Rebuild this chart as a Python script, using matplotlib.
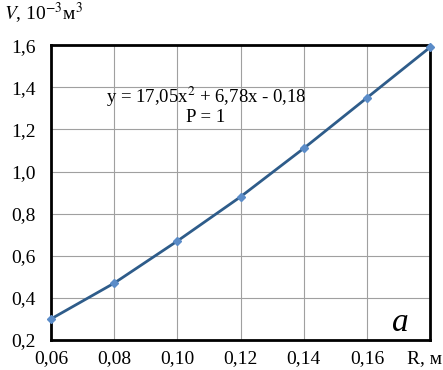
import matplotlib.pyplot as plt
from matplotlib.ticker import FuncFormatter

# values
R = [0.06, 0.08, 0.10, 0.12, 0.14, 0.16, 0.18]
V = [0.30, 0.47, 0.67, 0.88, 1.11, 1.35, 1.59]
xticks = [0.06, 0.08, 0.10, 0.12, 0.14, 0.16]
yticks = [0.2, 0.4, 0.6, 0.8, 1.0, 1.2, 1.4, 1.6]

plt.rcParams['font.family'] = ['Liberation Serif', 'DejaVu Serif']
plt.rcParams['mathtext.fontset'] = 'stix'

fig = plt.figure(figsize=(4.43, 3.7), dpi=100)
ax = fig.add_axes([0.115, 0.081, 0.856, 0.797])

ax.plot(R, V, color='#2E5C8A', linewidth=2, marker='D', markersize=4.5,
        markerfacecolor='#5B8CC8', markeredgecolor='#5B8CC8', zorder=3,
        clip_on=False)

ax.set_xlim(0.06, 0.18)
ax.set_ylim(0.2, 1.6)
ax.set_xticks(xticks)
ax.set_yticks(yticks)
ax.xaxis.set_major_formatter(FuncFormatter(lambda v, p: f"{v:.2f}".replace('.', ',')))
ax.yaxis.set_major_formatter(FuncFormatter(lambda v, p: f"{v:.1f}".replace('.', ',')))
ax.tick_params(length=0, labelsize=14)
ax.tick_params(axis='x', pad=7)
ax.tick_params(axis='y', pad=11)
ax.grid(True, color='#a0a0a0', linewidth=0.8)
for s in ax.spines.values():
    s.set_linewidth(2)
    s.set_color('black')

ax.text(0.109, 1.315, "y = 17,05x$^2$ + 6,78x - 0,18\nP = 1", ha='center', va='center',
        fontsize=13.5, linespacing=1.0)
ax.text(0.1705, 0.28, "a", fontsize=24, style='italic', ha='center', va='center')

fig.text(0.008, 0.965, "$V$, 10$^{-3}$м$^3$", fontsize=14, ha='left', va='center')
fig.text(0.958, 0.032, "R, м", fontsize=14, ha='center', va='center')

plt.savefig("out.png", dpi=100)
